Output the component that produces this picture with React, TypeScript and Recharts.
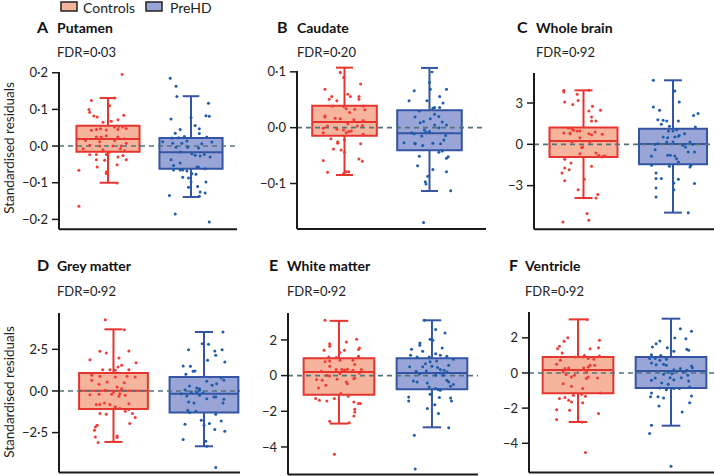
import React from 'react';
import { ComposedChart, XAxis, YAxis, Scatter, ReferenceArea, ReferenceLine } from 'recharts';

const FONT = 'Lato, "Noto Sans", sans-serif';

// groups
const groupNames = ['Controls', 'PreHD'];

// box stats: [lower whisker, Q1, median, Q3, upper whisker]
const putamenControlsBox = [-0.1, -0.0155, 0.019, 0.0555, 0.131];
const putamenPreHDBox = [-0.139, -0.062, -0.017, 0.022, 0.136];
const caudateControlsBox = [-0.0848, -0.0143, 0.0101, 0.0394, 0.1075];
const caudatePreHDBox = [-0.1134, -0.0406, -0.0101, 0.031, 0.107];
const wholeBrainControlsBox = [-3.9, -0.92, 0.24, 1.23, 3.92];
const wholeBrainPreHDBox = [-4.96, -1.45, 0.02, 1.14, 4.65];
const greyMatterControlsBox = [-3.06, -1.08, 0.02, 1.08, 3.7];
const greyMatterPreHDBox = [-3.32, -1.3, -0.16, 0.84, 3.54];
const whiteMatterControlsBox = [-2.69, -1.07, 0.2, 0.97, 3.07];
const whiteMatterPreHDBox = [-2.9, -0.77, 0.15, 0.97, 3.1];
const ventricleControlsBox = [-2.79, -1.16, 0.17, 0.91, 3.05];
const ventriclePreHDBox = [-3.0, -0.85, 0.11, 0.91, 3.09];

// individual residuals: [jitter, residual]
const putamenControls: [number, number][] = [
  [0.17, 0.195], [-0.2, 0.124], [0.08, 0.131], [0.02, 0.11], [0.19, 0.084], [-0.23, 0.1], [-0.22, 0.092],
  [-0.17, 0.082], [-0.13, 0.079], [-0.06, 0.065], [0.04, 0.068], [0.12, 0.072], [-0.2, 0.043], [-0.14, 0.045],
  [-0.09, 0.047], [-0.02, 0.044], [0.08, 0.052], [0.13, 0.054], [0.18, 0.052], [0.22, 0.048], [-0.14, 0.025],
  [-0.08, 0.025], [-0.02, 0.028], [0.12, 0.025], [0.2, 0.02], [-0.27, 0.015], [-0.1, 0.012], [0.08, 0.015],
  [0.22, 0.008], [-0.22, 0.002], [-0.1, 0.0], [0.06, 0.0], [0.16, 0.0], [-0.3, -0.007], [-0.06, -0.01],
  [0.15, -0.007], [0.2, -0.013], [-0.22, -0.024], [-0.14, -0.023], [-0.02, -0.023], [0.12, -0.03], [0.18, -0.026],
  [-0.14, -0.037], [-0.04, -0.039], [0.22, -0.037], [-0.13, -0.057], [0.11, -0.051], [-0.02, -0.071],
  [-0.02, -0.075], [0.11, -0.101], [-0.35, -0.066], [-0.35, -0.164], [0.12, 0.045], [0.02, -0.016],
];
const putamenPreHD: [number, number][] = [
  [-0.25, 0.185], [-0.18, 0.163], [-0.17, 0.135], [-0.24, 0.074], [0.0, 0.078], [0.21, 0.117], [0.18, 0.083],
  [0.22, 0.081], [0.05, 0.056], [0.1, 0.047], [-0.13, 0.045], [-0.19, 0.035], [0.1, 0.034], [-0.23, 0.022],
  [-0.15, 0.023], [-0.08, 0.026], [0.19, 0.025], [-0.34, 0.012], [-0.22, 0.008], [-0.11, 0.008], [-0.05, 0.014],
  [0.13, 0.006], [0.25, 0.011], [-0.18, -0.003], [-0.04, -0.003], [0.09, -0.005], [-0.13, -0.016], [0.01, -0.021],
  [0.05, -0.025], [0.11, -0.027], [0.16, -0.023], [0.23, -0.03], [-0.24, -0.037], [-0.13, -0.046], [-0.21, -0.053],
  [0.07, -0.057], [0.09, -0.057], [-0.21, -0.065], [-0.13, -0.065], [-0.1, -0.065], [0.17, -0.062], [-0.05, -0.068],
  [0.01, -0.075], [0.06, -0.077], [-0.1, -0.085], [-0.03, -0.087], [0.0, -0.098], [0.18, -0.098], [-0.03, -0.112],
  [0.08, -0.11], [0.11, -0.125], [0.17, -0.128], [0.1, -0.137], [-0.26, -0.135], [-0.19, -0.185], [0.22, -0.207],
];
const caudateControls: [number, number][] = [
  [0.17, 0.108], [-0.05, 0.099], [-0.01, 0.09], [0.19, 0.078], [-0.23, 0.069], [-0.15, 0.056], [-0.18, 0.051],
  [-0.09, 0.048], [0.04, 0.06], [0.07, 0.056], [0.17, 0.056], [0.17, 0.051], [-0.14, 0.039], [-0.01, 0.038],
  [0.02, 0.034], [0.12, 0.033], [0.22, 0.039], [0.24, 0.032], [0.06, 0.027], [-0.23, 0.021], [-0.23, 0.019],
  [-0.11, 0.017], [-0.05, 0.016], [0.11, 0.014], [0.22, 0.013], [0.04, 0.007], [-0.2, 0.003], [-0.25, -0.001],
  [0.15, 0.003], [0.21, 0.004], [-0.09, -0.003], [-0.01, -0.004], [0.02, -0.009], [0.05, -0.007], [0.08, -0.006],
  [-0.25, -0.009], [0.22, -0.012], [-0.16, -0.02], [0.0, -0.022], [-0.08, -0.025], [-0.08, -0.028], [0.19, -0.029],
  [-0.13, -0.038], [-0.04, -0.04], [0.0, -0.044], [-0.25, -0.059], [0.17, -0.056], [0.21, -0.06], [-0.2, -0.08],
  [0.02, -0.079], [0.05, -0.079], [-0.01, -0.082],
];
const caudatePreHD: [number, number][] = [
  [0.04, 0.107], [0.0, 0.081], [0.01, 0.069], [0.2, 0.069], [-0.18, 0.066], [0.12, 0.056], [-0.03, 0.048],
  [-0.24, 0.048], [0.16, 0.044], [0.06, 0.036], [0.04, 0.035], [0.12, 0.036], [-0.12, 0.03], [0.06, 0.024],
  [0.11, 0.02], [-0.17, 0.019], [0.01, 0.016], [-0.11, 0.009], [-0.07, 0.011], [0.15, 0.01], [0.2, 0.005],
  [0.06, 0.005], [0.11, 0.0], [-0.21, -0.009], [-0.06, -0.004], [-0.04, -0.008], [0.0, -0.007], [-0.18, -0.011],
  [-0.09, -0.015], [0.19, -0.014], [-0.3, -0.027], [-0.17, -0.028], [-0.17, -0.029], [-0.08, -0.032], [0.04, -0.028],
  [0.13, -0.029], [0.17, -0.022], [0.11, -0.044], [0.15, -0.042], [-0.12, -0.051], [0.2, -0.055], [0.22, -0.052],
  [-0.14, -0.068], [0.04, -0.075], [0.2, -0.079], [-0.02, -0.087], [-0.05, -0.097], [-0.04, -0.101], [0.25, -0.113],
  [-0.07, -0.17], [0.03, 0.1],
];
const wholeBrainControls: [number, number][] = [
  [-0.22, 3.92], [-0.22, 3.8], [-0.07, 3.63], [0.06, 3.92], [-0.21, 3.07], [-0.06, 3.19], [-0.12, 2.9], [0.1, 2.76],
  [0.19, 2.47], [0.06, 2.42], [0.09, 1.98], [0.09, 1.69], [0.14, 1.69], [-0.17, 1.19], [-0.13, 1.14], [-0.07, 0.97],
  [-0.04, 0.97], [-0.22, 0.82], [-0.15, 0.82], [0.06, 0.77], [0.09, 0.7], [0.13, 0.9], [0.21, 0.73], [-0.04, 0.48],
  [-0.13, 0.17], [-0.01, -0.19], [-0.02, -0.24], [-0.04, -0.68], [0.14, -0.63], [0.17, -0.8], [0.21, -0.92],
  [0.22, -0.87], [0.24, -0.85], [-0.21, -1.09], [-0.14, -1.35], [-0.21, -1.72], [-0.16, -1.84], [-0.24, -2.08],
  [0.09, -1.6], [-0.21, -2.64], [0.01, -2.54], [-0.06, -3.29], [0.16, -3.65], [0.14, -3.9], [0.04, -5.03],
  [0.06, -5.52], [-0.23, -5.64], [-0.15, 0.77], [0.07, 0.17], [-0.11, 1.02],
];
const wholeBrainPreHD: [number, number][] = [
  [-0.22, 4.65], [0.02, 3.87], [0.07, 3.07], [-0.22, 2.71], [-0.15, 2.47], [0.28, 2.23], [0.23, 2.1], [-0.17, 1.79],
  [-0.11, 1.74], [-0.07, 1.69], [0.06, 1.69], [-0.13, 1.45], [-0.04, 1.31], [0.25, 1.26], [0.04, 1.06], [0.0, 0.97],
  [-0.05, 0.97], [0.13, 0.77], [-0.11, 0.53], [-0.06, 0.48], [0.02, 0.53], [0.06, 0.58], [0.07, 0.65], [-0.07, 0.17],
  [0.0, 0.17], [-0.2, 0.0], [-0.17, 0.05], [0.11, -0.07], [0.14, -0.19], [0.19, 0.17], [0.22, 0.0], [0.17, -0.56],
  [0.24, -0.56], [-0.24, -0.87], [-0.06, -0.8], [-0.03, -0.8], [0.02, -0.85], [0.04, -1.04], [0.06, -1.28],
  [-0.24, -1.52], [-0.04, -1.6], [0.2, -1.52], [0.19, -1.65], [-0.19, -2.08], [-0.19, -2.49], [-0.13, -2.49],
  [0.06, -2.54], [0.01, -2.81], [0.24, -2.85], [-0.19, -3.17], [0.01, -3.29], [-0.19, -3.82], [0.17, -4.96],
  [-0.2, -0.39],
];
const greyMatterControls: [number, number][] = [
  [-0.09, 4.28], [0.12, 3.68], [-0.15, 2.38], [-0.08, 2.28], [0.17, 2.4], [-0.26, 1.88], [0.06, 1.98], [0.25, 1.7],
  [0.09, 1.54], [0.05, 1.44], [-0.12, 1.28], [-0.04, 1.28], [0.02, 1.24], [0.17, 1.28], [-0.24, 0.94], [-0.15, 0.88],
  [0.02, 0.84], [0.15, 0.88], [0.24, 0.84], [-0.24, 0.64], [-0.07, 0.54], [0.12, 0.5], [-0.16, 0.4], [0.04, 0.24],
  [0.09, 0.14], [-0.09, 0.04], [-0.26, -0.22], [-0.16, -0.2], [0.07, -0.16], [0.06, -0.32], [-0.02, -0.2],
  [-0.1, -0.72], [0.13, -0.26], [-0.19, -0.82], [-0.15, -0.82], [-0.04, -0.82], [0.17, -0.76], [0.02, -0.96],
  [0.07, -1.06], [-0.15, -1.36], [-0.08, -1.4], [0.13, -1.22], [0.17, -1.12], [0.21, -1.36], [0.24, -1.6],
  [0.18, -1.96], [-0.18, -2.06], [-0.2, -2.16], [-0.21, -2.36], [-0.2, -2.76], [0.04, -2.7], [0.04, -2.8],
  [-0.17, -3.1], [0.0, -0.06],
];
const greyMatterPreHD: [number, number][] = [
  [0.21, 3.54], [-0.17, 2.48], [-0.02, 2.84], [0.05, 2.8], [0.12, 2.4], [0.2, 2.48], [0.13, 2.14], [0.04, 1.84],
  [0.23, 1.74], [-0.23, 1.5], [-0.15, 1.48], [-0.12, 1.18], [-0.1, 1.2], [-0.2, 1.0], [0.03, 0.58], [0.09, 0.34],
  [0.19, 0.78], [0.22, 0.64], [0.14, 0.44], [-0.16, 0.3], [-0.08, 0.18], [-0.05, 0.14], [-0.21, 0.08], [-0.25, -0.16],
  [-0.19, -0.3], [-0.14, -0.06], [-0.08, -0.1], [-0.01, -0.1], [0.11, -0.36], [0.13, -0.36], [0.22, -0.5],
  [-0.17, -0.66], [-0.11, -0.72], [-0.05, -0.26], [0.03, -0.46], [0.21, -0.72], [-0.18, -1.16], [-0.16, -1.3],
  [-0.09, -1.22], [-0.03, -1.76], [0.06, -1.96], [0.13, -1.4], [-0.21, -2.0], [0.0, -2.06], [0.19, -1.8],
  [0.12, -2.32], [0.23, -2.42], [-0.23, -2.92], [0.02, -3.02], [0.03, -3.32], [0.13, -4.6], [-0.05, 0.04],
];
const whiteMatterControls: [number, number][] = [
  [-0.15, 3.1], [-0.1, 1.79], [0.08, 1.89], [0.19, 2.04], [-0.1, 1.64], [0.22, 1.55], [0.21, 1.46], [-0.16, 1.42],
  [0.01, 1.29], [0.06, 1.42], [-0.11, 1.05], [-0.03, 1.01], [-0.15, 0.77], [-0.1, 0.82], [0.01, 0.86], [0.15, 0.86],
  [0.21, 1.08], [-0.1, 0.52], [0.17, 0.62], [-0.03, 0.34], [0.03, 0.34], [0.06, 0.3], [0.09, 0.36], [0.15, 0.3],
  [0.24, 0.34], [-0.19, 0.24], [0.22, 0.15], [-0.13, 0.02], [-0.1, -0.02], [-0.24, -0.22], [-0.18, -0.26],
  [-0.14, -0.54], [-0.22, -0.69], [-0.02, -0.21], [0.08, -0.36], [0.09, -0.45], [0.16, -0.17], [0.17, -0.13],
  [0.02, -1.01], [0.1, -1.16], [-0.25, -1.29], [-0.21, -1.38], [-0.13, -1.42], [-0.05, -1.29], [0.16, -1.48],
  [0.21, -1.57], [0.23, -1.57], [0.17, -1.89], [0.17, -2.04], [0.16, -2.26], [-0.1, -2.56], [0.11, -2.65],
  [-0.05, -4.41], [0.01, 0.11],
];
const whiteMatterPreHD: [number, number][] = [
  [-0.08, 3.1], [0.04, 2.58], [0.14, 2.39], [-0.02, 2.04], [0.01, 1.98], [-0.13, 1.83], [-0.13, 1.7], [0.11, 1.55],
  [-0.22, 1.48], [-0.1, 1.36], [-0.23, 1.14], [-0.16, 1.05], [0.09, 1.14], [0.04, 1.23], [0.16, 1.08], [-0.03, 1.05],
  [-0.02, 0.77], [0.05, 0.82], [0.23, 0.92], [-0.07, 0.67], [-0.24, 0.49], [-0.1, 0.49], [0.0, 0.52], [0.18, 0.58],
  [0.06, 0.45], [0.09, 0.34], [0.13, 0.3], [-0.17, 0.24], [-0.06, 0.26], [0.09, 0.15], [-0.13, 0.11], [0.16, 0.21],
  [0.04, 0.02], [0.12, 0.02], [-0.2, -0.3], [-0.16, -0.36], [-0.05, -0.41], [0.16, -0.26], [0.18, -0.36],
  [0.23, -0.5], [0.2, -0.6], [-0.03, -0.64], [0.04, -0.73], [0.07, -0.79], [0.09, -0.82], [-0.02, -1.05],
  [0.08, -1.23], [-0.25, -1.2], [-0.25, -1.42], [0.2, -1.25], [0.21, -1.42], [0.03, -1.63], [-0.05, -1.85],
  [0.07, -2.13], [0.18, -2.92], [-0.19, -3.35], [-0.18, -5.23],
];
const ventricleControls: [number, number][] = [
  [0.1, 3.05], [-0.11, 2.01], [-0.15, 1.8], [0.23, 1.86], [-0.2, 1.52], [-0.22, 1.38], [0.13, 1.38], [0.22, 1.44],
  [-0.17, 1.14], [0.07, 1.0], [0.05, 0.91], [-0.03, 0.91], [-0.19, 0.72], [0.11, 0.82], [0.17, 0.78], [0.23, 0.97],
  [-0.23, 0.49], [0.18, 0.44], [-0.14, 0.25], [-0.1, 0.28], [0.06, 0.28], [0.11, 0.34], [0.13, 0.44], [-0.16, 0.06],
  [-0.13, -0.09], [-0.07, -0.23], [-0.04, -0.13], [0.09, -0.32], [0.11, -0.23], [0.21, -0.28], [-0.16, -0.61],
  [-0.07, -0.76], [0.05, -0.89], [-0.05, -1.27], [0.08, -1.33], [-0.2, -1.46], [-0.14, -1.4], [-0.1, -1.55],
  [-0.07, -1.65], [0.24, -1.14], [0.04, -1.21], [0.05, -1.69], [-0.09, -2.12], [-0.23, -2.09], [-0.23, -2.65],
  [0.22, -2.31], [0.04, -2.79], [0.08, -4.53], [0.0, 0.15], [0.09, 0.09],
];
const ventriclePreHD: [number, number][] = [
  [0.1, 2.52], [0.22, 2.37], [0.04, 1.99], [0.16, 1.95], [-0.12, 1.82], [-0.16, 1.67], [-0.2, 1.48], [-0.04, 1.44],
  [0.17, 1.35], [0.19, 1.29], [0.03, 1.23], [-0.21, 1.04], [-0.11, 1.0], [-0.23, 0.82], [-0.17, 0.82], [-0.05, 0.78],
  [-0.21, 0.57], [-0.12, 0.72], [-0.08, 0.49], [-0.16, 0.47], [-0.05, 0.44], [0.22, 0.4], [0.23, 0.3], [0.03, 0.19],
  [0.1, 0.25], [0.17, 0.15], [-0.02, 0.06], [0.13, 0.06], [-0.08, -0.08], [0.01, -0.04], [-0.17, -0.28],
  [-0.21, -0.42], [-0.01, -0.27], [0.03, -0.38], [0.11, -0.27], [0.18, -0.13], [0.19, -0.45], [-0.1, -0.57],
  [-0.03, -0.64], [-0.12, -0.85], [-0.05, -0.95], [0.09, -0.89], [0.2, -0.8], [-0.21, -1.14], [-0.14, -1.36],
  [-0.08, -1.42], [-0.22, -1.36], [0.22, -1.31], [0.2, -1.69], [-0.13, -1.88], [0.12, -2.22], [-0.21, -2.98],
  [-0.23, -3.45], [0.0, -5.31], [0.03, -0.89],
];

// y-axis ticks per panel
const putamenTicks = [-0.2, -0.1, 0, 0.1, 0.2];
const caudateTicks = [-0.1, 0, 0.1];
const wholeBrainTicks = [-3, 0, 3];
const greyMatterTicks = [-2.5, 0, 2.5];
const whiteMatterTicks = [-4, -2, 0, 2];
const ventricleTicks = [-4, -2, 0, 2];

const titles = ['Putamen', 'Caudate', 'Whole brain', 'Grey matter', 'White matter', 'Ventricle'];
const letters = ['A', 'B', 'C', 'D', 'E', 'F'];
const fdrLabels = ['FDR=0·03', 'FDR=0·20', 'FDR=0·92', 'FDR=0·92', 'FDR=0·92', 'FDR=0·92'];

// styles
const STYLE = [
  { stroke: '#e6352f', fill: '#f6b49c', dot: '#ef3b36' },
  { stroke: '#3554a3', fill: '#99a5d7', dot: '#1c5ca9' },
];
const CENTERS = [0.5, 1.5];
const HALF = 0.38;
const CAP = 0.1;

interface PanelCfg {
  idx: number;
  boxes: number[][];
  points: [number, number][][];
  ticks: number[];
  decimals: number;
  yDomain: [number, number];
  xDomain: [number, number];
  plotLeft: number;
  plotRight: number;
  plotTop: number;
  plotBottom: number;
  letterX: number;
  titleX: number;
  titleY: number;
  fdrY: number;
}

const panels: PanelCfg[] = [
  { idx: 0, boxes: [putamenControlsBox, putamenPreHDBox], points: [putamenControls, putamenPreHD], ticks: putamenTicks, decimals: 1,
    yDomain: [-0.227, 0.202], xDomain: [-0.09, 2.054], plotLeft: 59, plotRight: 237, plotTop: 71.7, plotBottom: 229,
    letterX: 37, titleX: 57, titleY: 33.3, fdrY: 56.5 },
  { idx: 1, boxes: [caudateControlsBox, caudatePreHDBox], points: [caudateControls, caudatePreHD], ticks: caudateTicks, decimals: 1,
    yDomain: [-0.1815, 0.1015], xDomain: [-0.059, 2.165], plotLeft: 297, plotRight: 486, plotTop: 71, plotBottom: 229,
    letterX: 277, titleX: 297, titleY: 33.3, fdrY: 56.5 },
  { idx: 2, boxes: [wholeBrainControlsBox, wholeBrainPreHDBox], points: [wholeBrainControls, wholeBrainPreHD], ticks: wholeBrainTicks, decimals: 0,
    yDomain: [-6.17, 5.18], xDomain: [-0.053, 1.958], plotLeft: 534, plotRight: 714, plotTop: 72.7, plotBottom: 229,
    letterX: 517, titleX: 536, titleY: 33.3, fdrY: 56.5 },
  { idx: 3, boxes: [greyMatterControlsBox, greyMatterPreHDBox], points: [greyMatterControls, greyMatterPreHD], ticks: greyMatterTicks, decimals: 1,
    yDomain: [-4.9, 4.68], xDomain: [-0.102, 1.898], plotLeft: 59, plotRight: 240, plotTop: 312.7, plotBottom: 472.3,
    letterX: 37, titleX: 57, titleY: 270.7, fdrY: 296 },
  { idx: 4, boxes: [whiteMatterControlsBox, whiteMatterPreHDBox], points: [whiteMatterControls, whiteMatterPreHD], ticks: whiteMatterTicks, decimals: 0,
    yDomain: [-5.55, 3.51], xDomain: [-0.048, 1.995], plotLeft: 288, plotRight: 478, plotTop: 312.7, plotBottom: 474.3,
    letterX: 269, titleX: 287, titleY: 270.7, fdrY: 296 },
  { idx: 5, boxes: [ventricleControlsBox, ventriclePreHDBox], points: [ventricleControls, ventriclePreHD], ticks: ventricleTicks, decimals: 0,
    yDomain: [-5.67, 3.47], xDomain: [-0.027, 1.962], plotLeft: 529, plotRight: 714, plotTop: 311.7, plotBottom: 472.3,
    letterX: 509, titleX: 525, titleY: 270.7, fdrY: 296 },
];

const Y_W = 50;
const M_TOP = 12;
const X_H = 4;

function fmt(v: number, d: number): string {
  const s = Math.abs(v).toFixed(d).replace('.', '·');
  return v < -1e-9 ? '−' + s : s;
}

function makeDot(color: string) {
  return (props: any) => <circle cx={props.cx} cy={props.cy} r={1.5} fill={color} />;
}

function Panel({ p }: { p: PanelCfg }) {
  const left = p.plotLeft - Y_W;
  const top = p.plotTop - M_TOP;
  const width = p.plotRight - left;
  const height = p.plotBottom - top + X_H;
  return (
    <div style={{ position: 'absolute', left, top, width, height }}>
      <ComposedChart width={width} height={height} margin={{ top: M_TOP, right: 0, bottom: 0, left: 0 }}>
        <XAxis type="number" dataKey="x" domain={p.xDomain} allowDataOverflow tick={false} tickLine={false}
          axisLine={{ stroke: '#1a1a1a', strokeWidth: 2 }} height={X_H} />
        <YAxis type="number" dataKey="y" domain={p.yDomain} allowDataOverflow ticks={p.ticks} interval={0}
          tickFormatter={(v: number) => fmt(v, p.decimals)} width={Y_W} tickSize={7} tickMargin={4}
          tick={{ fontSize: 13, fill: '#222', fontFamily: FONT }}
          axisLine={{ stroke: '#1a1a1a', strokeWidth: 2 }} tickLine={{ stroke: '#1a1a1a', strokeWidth: 1.5 }} />
        {p.boxes.map((b, g) => (
          <ReferenceArea key={'box' + g} x1={CENTERS[g] - HALF} x2={CENTERS[g] + HALF} y1={b[1]} y2={b[3]}
            fill={STYLE[g].fill} fillOpacity={1} stroke={STYLE[g].stroke} strokeWidth={2} ifOverflow="visible" />
        ))}
        {p.boxes.map((b, g) => (
          <ReferenceLine key={'med' + g} segment={[{ x: CENTERS[g] - HALF, y: b[2] }, { x: CENTERS[g] + HALF, y: b[2] }]}
            stroke={STYLE[g].stroke} strokeWidth={2} ifOverflow="visible" />
        ))}
        {p.boxes.map((b, g) => (
          <ReferenceLine key={'wu' + g} segment={[{ x: CENTERS[g], y: b[3] }, { x: CENTERS[g], y: b[4] }]}
            stroke={STYLE[g].stroke} strokeWidth={2} ifOverflow="visible" />
        ))}
        {p.boxes.map((b, g) => (
          <ReferenceLine key={'wl' + g} segment={[{ x: CENTERS[g], y: b[1] }, { x: CENTERS[g], y: b[0] }]}
            stroke={STYLE[g].stroke} strokeWidth={2} ifOverflow="visible" />
        ))}
        {p.boxes.map((b, g) => (
          <ReferenceLine key={'cu' + g} segment={[{ x: CENTERS[g] - CAP, y: b[4] }, { x: CENTERS[g] + CAP, y: b[4] }]}
            stroke={STYLE[g].stroke} strokeWidth={2} ifOverflow="visible" />
        ))}
        {p.boxes.map((b, g) => (
          <ReferenceLine key={'cl' + g} segment={[{ x: CENTERS[g] - CAP, y: b[0] }, { x: CENTERS[g] + CAP, y: b[0] }]}
            stroke={STYLE[g].stroke} strokeWidth={2} ifOverflow="visible" />
        ))}
        <ReferenceLine y={0} stroke="#52737a" strokeDasharray="5 4" strokeWidth={1.6} />
        {p.points.map((pts, g) => (
          <Scatter key={'pts' + g} name={groupNames[g]} data={pts.map(([j, v]) => ({ x: CENTERS[g] + j, y: v }))}
            isAnimationActive={false} shape={makeDot(STYLE[g].dot)} />
        ))}
      </ComposedChart>
    </div>
  );
}

function Overlay() {
  return (
    <svg width={714} height={476} style={{ position: 'absolute', left: 0, top: 0, pointerEvents: 'none' }}
      fontFamily={FONT}>
      <rect x={61} y={2} width={16} height={9} fill={STYLE[0].fill} stroke="#222" strokeWidth={1.5} />
      <text x={83} y={12.5} fontSize={14} fill="#222">{groupNames[0]}</text>
      <rect x={146} y={2} width={16} height={9} fill={STYLE[1].fill} stroke="#222" strokeWidth={1.5} />
      <text x={170} y={12.5} fontSize={14} fill="#222">{groupNames[1]}</text>
      {panels.map((p) => (
        <g key={'t' + p.idx}>
          <text x={p.letterX} y={p.titleY} fontSize={16} fontWeight={700} fill="#111">{letters[p.idx]}</text>
          <text x={p.titleX} y={p.titleY} fontSize={14} fontWeight={700} fill="#111">{titles[p.idx]}</text>
          <text x={p.titleX} y={p.fdrY} fontSize={13} fill="#222">{fdrLabels[p.idx]}</text>
        </g>
      ))}
      <text x={14} y={148} fontSize={13.5} fill="#222" textAnchor="middle" transform="rotate(-90 14 148)">Standardised residuals</text>
      <text x={14} y={392} fontSize={13.5} fill="#222" textAnchor="middle" transform="rotate(-90 14 392)">Standardised residuals</text>
    </svg>
  );
}

export default function App() {
  return (
    <div style={{ position: 'absolute', left: 0, top: 0, width: 714, height: 476, background: '#fff', overflow: 'hidden' }}>
      {panels.map((p) => <Panel key={p.idx} p={p} />)}
      <Overlay />
    </div>
  );
}
